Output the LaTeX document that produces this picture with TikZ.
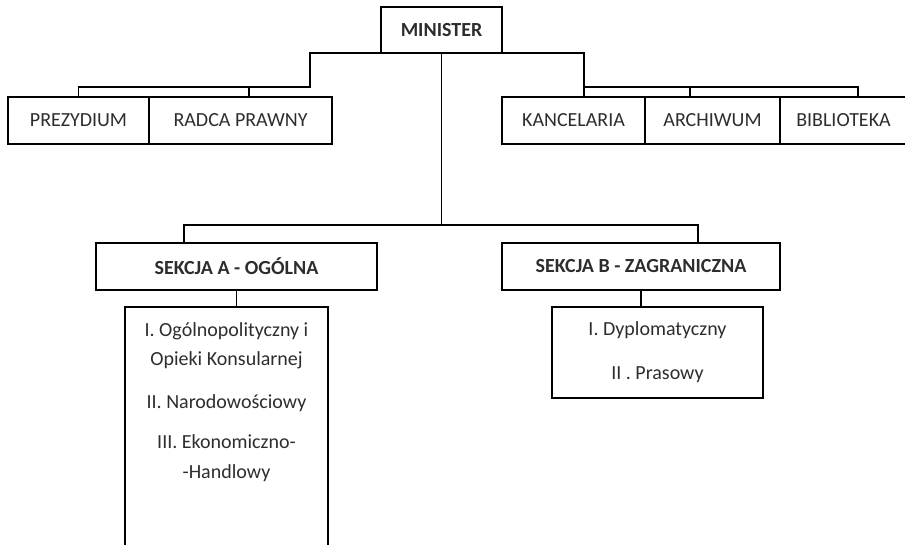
\documentclass[tikz,border=0pt]{standalone}
\usepackage{fontspec}
\setmainfont{Carlito}
\usepackage{xcolor}
\definecolor{inkgray}{RGB}{45,45,45}
\usetikzlibrary{positioning}
\tikzset{
    unit/.style={
        rectangle, draw,
        inner sep=0pt,
        outer sep=0pt,
        minimum height=23.5pt,
        text centered,
        align=center,
        text=inkgray,
        font=\fontsize{10}{11.5}\selectfont
    },
    headunit/.style={
        unit,
        font=\fontsize{10}{11.5}\selectfont\bfseries
    },
    deptext/.style={
        align=center,
        inner sep=0pt,
        text=inkgray,
        font=\fontsize{10}{14.75}\selectfont
    }
}

\begin{document}
\begin{tikzpicture}[
    x=0.5pt, y=-0.5pt,
    line width=0.9pt
]
\useasboundingbox (0,0) rectangle (905,545);

% Minister
\node (minister) [headunit, minimum width=60.5pt, minimum height=23pt] at (441.5,30) {MINISTER};

% pierwszy rzad
\node (prez) [unit, minimum width=70.5pt] at (78.5,120.5) {PREZYDIUM};
\node (radca) [unit, minimum width=91.5pt, right=0pt of prez] {RADCA PRAWNY};
\node (kanc) [unit, minimum width=71.5pt] at (573.5,120.5) {KANCELARIA};
\node (arch) [unit, minimum width=67.5pt, right=0pt of kanc] {ARCHIWUM};
\node (bibl) [unit, minimum width=63.5pt, right=0pt of arch] {BIBLIOTEKA};

% sekcje
\node (sekA) [headunit, minimum width=140.5pt] at (236.5,266.5) {SEKCJA A - OGÓLNA};
\node (sekB) [headunit, minimum width=139pt] at (641,266.5) {SEKCJA B - ZAGRANICZNA};

% wydzialy
\node (depA) [unit, minimum width=101.5pt, minimum height=130pt, anchor=north] at (226.5,307) {};
\node (depAtext) [deptext] at (226.5,402)
    {I. Ogólnopolityczny i\\ Opieki Konsularnej\\[6.5pt]
     II. Narodowościowy\\[5.5pt]
     III. Ekonomiczno-\\ -Handlowy};
\node (depB) [unit, minimum width=105.5pt, minimum height=45.5pt, font=\fontsize{10}{14.75}\selectfont] at (657.5,352.5)
    {I. Dyplomatyczny\\[7.25pt] II . Prasowy};

% wezly laczace
\coordinate (leftJ) at (310,87);
\coordinate (radcaJ) at (249,87);
\coordinate (rightJ) at (584,87);
\coordinate (archJ) at (690,87);
\coordinate (rightEnd) at (858,87);
\coordinate (hubL) at (184,225);
\coordinate (hubR) at (698,225);

\draw (minister.south west) -| (leftJ) -| (prez.north);
\draw (radcaJ) -- (radcaJ |- radca.north);
\draw (minister.south east) -| (rightJ) -- (rightJ |- kanc.north);
\draw (rightJ) -- (rightEnd) -- (rightEnd |- bibl.north);
\draw (archJ) -- (archJ |- arch.north);

\draw (minister.south) -- (minister.south |- hubL);
\draw (hubL |- sekA.north) -- (hubL) -- (hubR) -- (hubR |- sekB.north);
\draw (sekA.south) -- (sekA.south |- depA.north);
\draw (sekB.south) -- (sekB.south |- depB.north);

\end{tikzpicture}
\end{document}
